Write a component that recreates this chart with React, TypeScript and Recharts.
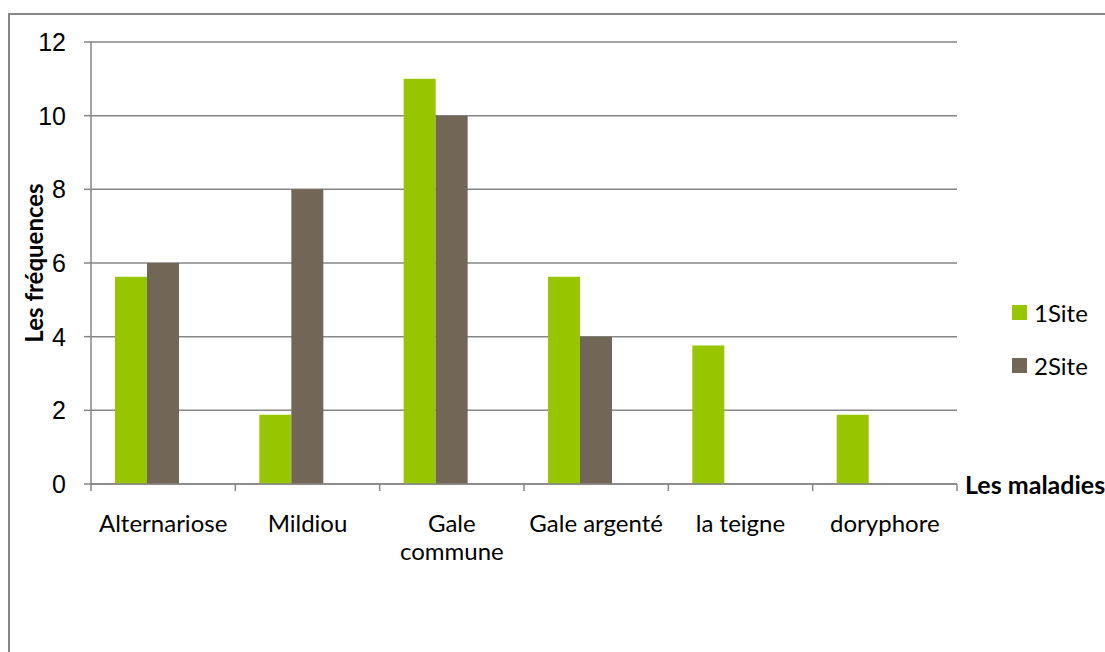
import { BarChart, Bar, XAxis, YAxis, CartesianGrid, Legend } from 'recharts';

// Les maladies observées
const categories = ['Alternariose', 'Mildiou', 'Gale commune', 'Gale argenté', 'la teigne', 'doryphore'];
const site1 = [5.63, 1.88, 11, 5.63, 3.76, 1.88];
const site2 = [6, 8, 10, 4, null, null];
// the source sheet has a third, empty series: it keeps a blank slot to the right of each pair
const emptySeries = [null, null, null, null, null, null];
const yTicks = [0, 2, 4, 6, 8, 10, 12];
const wrappedLabels: Record<string, string[]> = { 'Gale commune': ['Gale', 'commune'] };

const data = categories.map((name, i) => ({
  name,
  '1Site': site1[i],
  '2Site': site2[i],
  vide: emptySeries[i],
}));

const W = 1105;
const H = 652;
const LEFT = 91;
const RIGHT = 957;
const TOP = 42;
const BOTTOM = 484;
const axisGray = '#868686';
const green = '#97C500';
const brown = '#726757';
const textFont = 'Lato, "Open Sans", sans-serif';

function CategoryTick(props: any) {
  const { x, y, payload, index } = props;
  const half = payload?.offset || (RIGHT - LEFT) / categories.length / 2;
  const lines = wrappedLabels[payload.value] ?? [payload.value];
  return (
    <g>
      <line x1={x - half} x2={x - half} y1={y} y2={y + 7} stroke={axisGray} strokeWidth={1.5} />
      {index === categories.length - 1 && (
        <line x1={x + half} x2={x + half} y1={y} y2={y + 7} stroke={axisGray} strokeWidth={1.5} />
      )}
      <text x={x} y={y + 48} textAnchor="middle" fontFamily={textFont} fontSize={24} fill="#000">
        {lines.map((l: string, i: number) => (
          <tspan key={i} x={x} dy={i === 0 ? 0 : 28}>{l}</tspan>
        ))}
      </text>
    </g>
  );
}

function SiteLegend({ payload }: any) {
  const items = (payload || []).filter((p: any) => p.type !== 'none');
  return (
    <div style={{ fontFamily: textFont, fontSize: 24, color: '#000' }}>
      {items.map((p: any) => (
        <div key={p.value} style={{ display: 'flex', alignItems: 'center', height: 53 }}>
          <span style={{ width: 15, height: 15, background: p.color, display: 'inline-block', marginRight: 7 }} />
          <span>{p.value}</span>
        </div>
      ))}
    </div>
  );
}

export default function App() {
  return (
    <div style={{ position: 'fixed', left: 0, top: 0, width: W, height: H, overflow: 'hidden', background: '#fff' }}>
      <div style={{ position: 'absolute', left: 8, top: 13, width: 1300, height: 900, border: `2px solid ${axisGray}` }} />
      <div style={{ position: 'absolute', left: 0, top: 0 }}>
        <BarChart
          width={W}
          height={H}
          data={data}
          margin={{ top: TOP, right: W - RIGHT, bottom: 0, left: 0 }}
          barCategoryGap={24}
          barGap={0}
        >
          <CartesianGrid vertical={false} stroke={axisGray} strokeWidth={1.5} />
          <XAxis
            dataKey="name"
            height={H - BOTTOM}
            axisLine={{ stroke: axisGray, strokeWidth: 1.5 }}
            tickLine={false}
            tickSize={0}
            tickMargin={0}
            interval={0}
            tick={<CategoryTick />}
            label={{
              content: ({ viewBox }: any) => (
                <text
                  x={viewBox.x + viewBox.width + 8}
                  y={viewBox.y}
                  dominantBaseline="central"
                  fontFamily={textFont}
                  fontWeight="bold"
                  fontSize={25}
                  fill="#000"
                >
                  Les maladies
                </text>
              ),
            }}
          />
          <YAxis
            width={LEFT}
            domain={[0, 12]}
            ticks={yTicks}
            interval={0}
            axisLine={{ stroke: axisGray, strokeWidth: 1.5 }}
            tickLine={{ stroke: axisGray, strokeWidth: 1.5 }}
            tickSize={7}
            tickMargin={18}
            tick={{ fill: '#000', fontSize: 25, fontFamily: 'Arial, "Liberation Sans", sans-serif' }}
            label={{
              content: ({ viewBox }: any) => {
                const cx = 33;
                const cy = viewBox.y + viewBox.height / 2;
                return (
                  <text
                    transform={`translate(${cx},${cy}) rotate(-90)`}
                    textAnchor="middle"
                    dominantBaseline="central"
                    fontFamily={textFont}
                    fontWeight="bold"
                    fontSize={24}
                    fill="#000"
                  >
                    Les fréquences
                  </text>
                );
              },
            }}
          />
          <Legend
            layout="vertical"
            align="center"
            verticalAlign="middle"
            content={<SiteLegend />}
            wrapperStyle={{ left: 1012, top: 286, width: 90 }}
          />
          <Bar dataKey="1Site" fill={green} isAnimationActive={false} />
          <Bar dataKey="2Site" fill={brown} isAnimationActive={false} />
          <Bar dataKey="vide" fill="none" legendType="none" isAnimationActive={false} />
        </BarChart>
      </div>
    </div>
  );
}
